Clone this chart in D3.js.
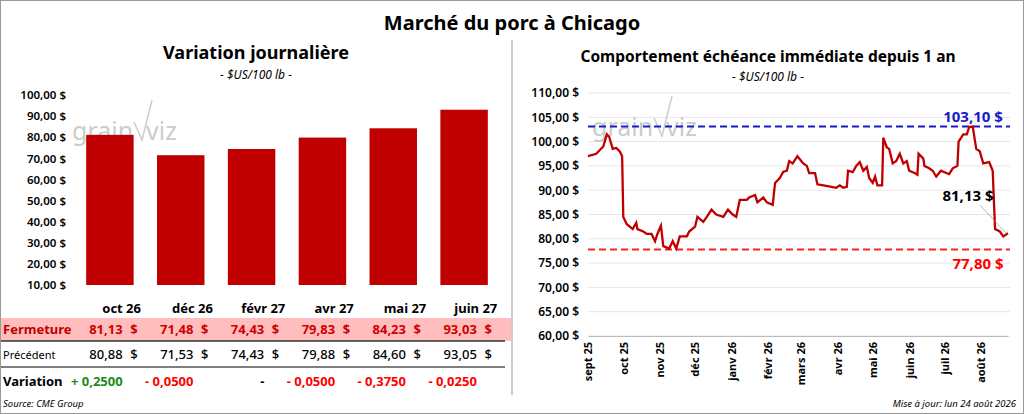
<!DOCTYPE html>
<html><head><meta charset="utf-8">
<script src="https://cdn.jsdelivr.net/npm/d3@7"></script>
<style>body{margin:0;background:#fff;font-family:"Noto Sans",sans-serif;}</style>
</head><body>
<svg id="c" width="1024" height="414"></svg>
<script>
// contrats et fermetures
var contracts = ["oct 26", "déc 26", "févr 27", "avr 27", "mai 27", "juin 27"];
var closing = [81.13, 71.48, 74.43, 79.83, 84.23, 93.03];
var previous = [80.88, 71.53, 74.43, 79.88, 84.60, 93.05];
var variation = ["+ 0,2500", "- 0,0500", "-", "- 0,0500", "- 0,3750", "- 0,0250"];
var barTicks = [10, 20, 30, 40, 50, 60, 70, 80, 90, 100];

// échéance immédiate : jours depuis le 1er sept 2025, prix
var days = [0,7,13,16,18,21,24,27,29,30,33,38,41,42,47,50,54,57,59,62,64,69,72,75,78,84,86,91,93,98,101,105,109,115,119,123,126,129,135,137,142,144,149,152,157,159,163,166,169,171,174,178,183,186,188,193,195,200,205,211,214,217,220,221,225,228,231,234,237,239,242,244,246,250,251,254,256,259,262,265,268,271,273,278,280,281,285,286,290,293,296,300,305,307,310,314,315,319,322,324,327,330,333,336,341,344,346,350,353,356,357];
var prices = [97,97.5,99,101.5,101,98.5,98.7,98,97,84.5,83,82,83.3,82,81.5,81,81,79.5,81,82.7,78.5,78,79.5,78,80.5,80.5,81.5,82.5,84.5,83.5,84.5,86,85,84.5,86,85,84.5,88,88,88.5,89,87.5,88.5,87.5,87,91.5,92.5,93.8,94,96,95.5,97,95.5,95,93.5,93.5,91.2,91,90.8,90.5,91,90.5,90.7,94,93.7,95,95.8,94,94.8,92.5,91.5,92.8,91,91,100.8,98.8,98.5,95.5,96,97.5,95.5,96,94,93.5,93.2,97.5,96.5,95,94.5,94,92.8,94,93.5,93.3,94.5,95,100,101.5,101.5,103,103.1,98.5,98,95.5,95.8,94,82,81.5,80.5,81,81.13];
var months = ["sept 25","oct 25","nov 25","déc 25","janv 26","févr 26","mars 26","avr 26","mai 26","juin 26","juil 26","août 26"];
var lineTicks = [60,65,70,75,80,85,90,95,100,105,110];
var maxPrice = 103.10, minPrice = 77.80, lastPrice = 81.13;

var svg = d3.select("#c");
var fmt = function(v, d) { return v.toFixed(d).replace(".", ","); };
var FONT = "'Noto Sans',sans-serif";

// cadres
svg.append("rect").attr("x", 0.5).attr("y", 0.5).attr("width", 1023).attr("height", 413).attr("fill", "none").attr("stroke", "#999");
svg.append("line").attr("x1", 512).attr("x2", 512).attr("y1", 40).attr("y2", 395).attr("stroke", "#999");

svg.append("text").attr("x", 512).attr("y", 30).attr("text-anchor", "middle")
  .attr("font-size", 20).attr("font-weight", "bold").text("Marché du porc à Chicago");

function watermark(x, y) {
  var g = svg.append("g").attr("fill", "#ccc").attr("font-size", 25);
  g.append("text").attr("x", x).attr("y", y).text("grain");
  g.append("text").attr("x", x + 74).attr("y", y).text("viz");
  g.append("path").attr("d", "M" + (x + 62) + "," + (y - 18) + " L" + (x + 70) + "," + (y) + " L" + (x + 80) + "," + (y - 40))
    .attr("fill", "none").attr("stroke", "#ccc").attr("stroke-width", 1.5);
}

// ---- gauche
svg.append("text").attr("x", 256).attr("y", 59).attr("text-anchor", "middle").attr("font-size", 18).attr("font-weight", "bold").text("Variation journalière");
svg.append("text").attr("x", 256).attr("y", 79).attr("text-anchor", "middle").attr("font-size", 12).attr("font-style", "italic").text("- $US/100 lb -");

var xb = d3.scaleBand().domain(contracts).range([72, 502]).paddingInner(0.33).paddingOuter(0.2);
var yb = d3.scaleLinear().domain([10, 100]).range([285, 95]);

svg.append("g").attr("transform", "translate(69,0)")
  .call(d3.axisLeft(yb).tickValues(barTicks).tickSize(0).tickFormat(function(d){ return fmt(d, 2) + " $"; }))
  .call(function(g){ g.select(".domain").remove(); g.selectAll("text").attr("font-size", 11.5).attr("font-weight", 600).attr("font-family", FONT).attr("fill", "#000"); });

watermark(72, 140);

svg.selectAll(".bar").data(closing).enter().append("rect")
  .attr("x", function(d, i){ return xb(contracts[i]); })
  .attr("width", xb.bandwidth())
  .attr("y", function(d){ return yb(d); })
  .attr("height", function(d){ return yb(10) - yb(d); })
  .attr("fill", "#c00000");

// tableau
svg.append("rect").attr("x", 1).attr("y", 318).attr("width", 510).attr("height", 23).attr("fill", "#ffbdbd");
svg.append("line").attr("x1", 1).attr("x2", 505).attr("y1", 341).attr("y2", 341).attr("stroke", "#333").attr("stroke-width", 1.5);
svg.append("line").attr("x1", 1).attr("x2", 505).attr("y1", 367).attr("y2", 367).attr("stroke", "#555").attr("stroke-width", 1.5);

var colRight = function(i){ return xb(contracts[i]) + xb.bandwidth() + 2; };
contracts.forEach(function(c, i) {
  var cx = colRight(i);
  svg.append("text").attr("x", cx - 14).attr("y", 313).attr("text-anchor", "middle").attr("font-size", 13).attr("font-weight", "bold").text(c);
  svg.append("text").attr("x", cx - 13).attr("y", 334).attr("text-anchor", "end").attr("font-size", 13).attr("font-weight", "bold").attr("fill", "#d00000").text(fmt(closing[i], 2));
  svg.append("text").attr("x", cx + 2).attr("y", 334).attr("text-anchor", "end").attr("font-size", 13).attr("font-weight", "bold").attr("fill", "#d00000").text("$");
  svg.append("text").attr("x", cx - 13).attr("y", 359).attr("text-anchor", "end").attr("font-size", 13).attr("font-weight", 500).text(fmt(previous[i], 2));
  svg.append("text").attr("x", cx + 2).attr("y", 359).attr("text-anchor", "end").attr("font-size", 13).attr("font-weight", 500).text("$");
  svg.append("text").attr("x", cx - 13).attr("y", 386).attr("text-anchor", "end").attr("font-size", 13).attr("font-weight", "bold")
    .attr("fill", variation[i][0] == "+" ? "#1a8a1a" : (variation[i] == "-" ? "#000" : "#ff0000")).text(variation[i]);
});
svg.append("text").attr("x", 3).attr("y", 334).attr("font-size", 13).attr("font-weight", "bold").attr("fill", "#c00000").text("Fermeture");
svg.append("text").attr("x", 3).attr("y", 359).attr("font-size", 11).text("Précédent");
svg.append("text").attr("x", 3).attr("y", 386).attr("font-size", 13).attr("font-weight", "bold").text("Variation");
svg.append("text").attr("x", 3).attr("y", 407).attr("font-size", 9.5).attr("font-style", "italic").text("Source: CME Group");

// ---- droite
svg.append("text").attr("x", 768).attr("y", 62).attr("text-anchor", "middle").attr("font-size", 15.5).attr("font-weight", "bold").text("Comportement  échéance immédiate depuis 1 an");
svg.append("text").attr("x", 768).attr("y", 81).attr("text-anchor", "middle").attr("font-size", 12).attr("font-style", "italic").text("- $US/100 lb -");

var t0 = new Date(2025, 8, 1);
var dates = days.map(function(d){ return d3.timeDay.offset(t0, d); });
var xl = d3.scaleTime().domain([t0, dates[dates.length - 1]]).range([588, 1008]);
var yl = d3.scaleLinear().domain([60, 110]).range([336, 93]);

svg.append("g").selectAll("line").data(lineTicks).enter().append("line")
  .attr("x1", 588).attr("x2", 1010).attr("y1", function(d){ return yl(d); }).attr("y2", function(d){ return yl(d); })
  .attr("stroke", "#e6e6e6");

svg.append("g").attr("transform", "translate(582,0)")
  .call(d3.axisLeft(yl).tickValues(lineTicks).tickSize(0).tickFormat(function(d){ return fmt(d, 2) + " $"; }))
  .call(function(g){ g.select(".domain").remove(); g.selectAll("text").attr("font-size", 12).attr("font-weight", 600).attr("font-family", FONT).attr("fill", "#000"); });

var monthDates = months.map(function(m, i){ return d3.timeMonth.offset(t0, i); });
svg.append("g").attr("transform", "translate(0,336)")
  .call(d3.axisBottom(xl).tickValues(monthDates).tickSize(0).tickFormat(function(d, i){ return months[i]; }))
  .call(function(g){
    g.select(".domain").attr("stroke", "#bbb");
    g.selectAll("text").attr("font-size", 11).attr("font-weight", "bold").attr("font-family", FONT).attr("fill", "#000")
      .attr("text-anchor", "end").attr("transform", "rotate(-90)").attr("dx", "-6").attr("dy", "0.35em").attr("y", 0).attr("x", 0);
  });

watermark(592, 136);

svg.append("line").attr("x1", 588).attr("x2", 1010).attr("y1", yl(maxPrice)).attr("y2", yl(maxPrice))
  .attr("stroke", "#1a1ac8").attr("stroke-width", 2).attr("stroke-dasharray", "7,4");
svg.append("line").attr("x1", 588).attr("x2", 1010).attr("y1", yl(minPrice)).attr("y2", yl(minPrice))
  .attr("stroke", "#ff2020").attr("stroke-width", 2).attr("stroke-dasharray", "7,4");

svg.append("path").datum(prices)
  .attr("d", d3.line().x(function(d, i){ return xl(dates[i]); }).y(function(d){ return yl(d); }))
  .attr("fill", "none").attr("stroke", "#c00000").attr("stroke-width", 2.3);

svg.append("text").attr("x", 973).attr("y", yl(maxPrice) - 5).attr("text-anchor", "middle").attr("font-size", 15).attr("font-weight", "bold").attr("fill", "#1a1ac8").text(fmt(maxPrice, 2) + " $");
svg.append("text").attr("x", 978).attr("y", yl(minPrice) + 20).attr("text-anchor", "middle").attr("font-size", 15).attr("font-weight", "bold").attr("fill", "#ff0000").text(fmt(minPrice, 2) + " $");
svg.append("text").attr("x", 968).attr("y", 201).attr("text-anchor", "middle").attr("font-size", 15).attr("font-weight", "bold").text(fmt(lastPrice, 2) + " $");
svg.append("line").attr("x1", 980).attr("y1", 205).attr("x2", 1006).attr("y2", yl(lastPrice)).attr("stroke", "#999").attr("stroke-width", 0.7);

svg.append("text").attr("x", 1016).attr("y", 407).attr("text-anchor", "end").attr("font-size", 9.5).attr("font-style", "italic").text("Mise à jour: lun 24 août 2026");
</script>
</body></html>
